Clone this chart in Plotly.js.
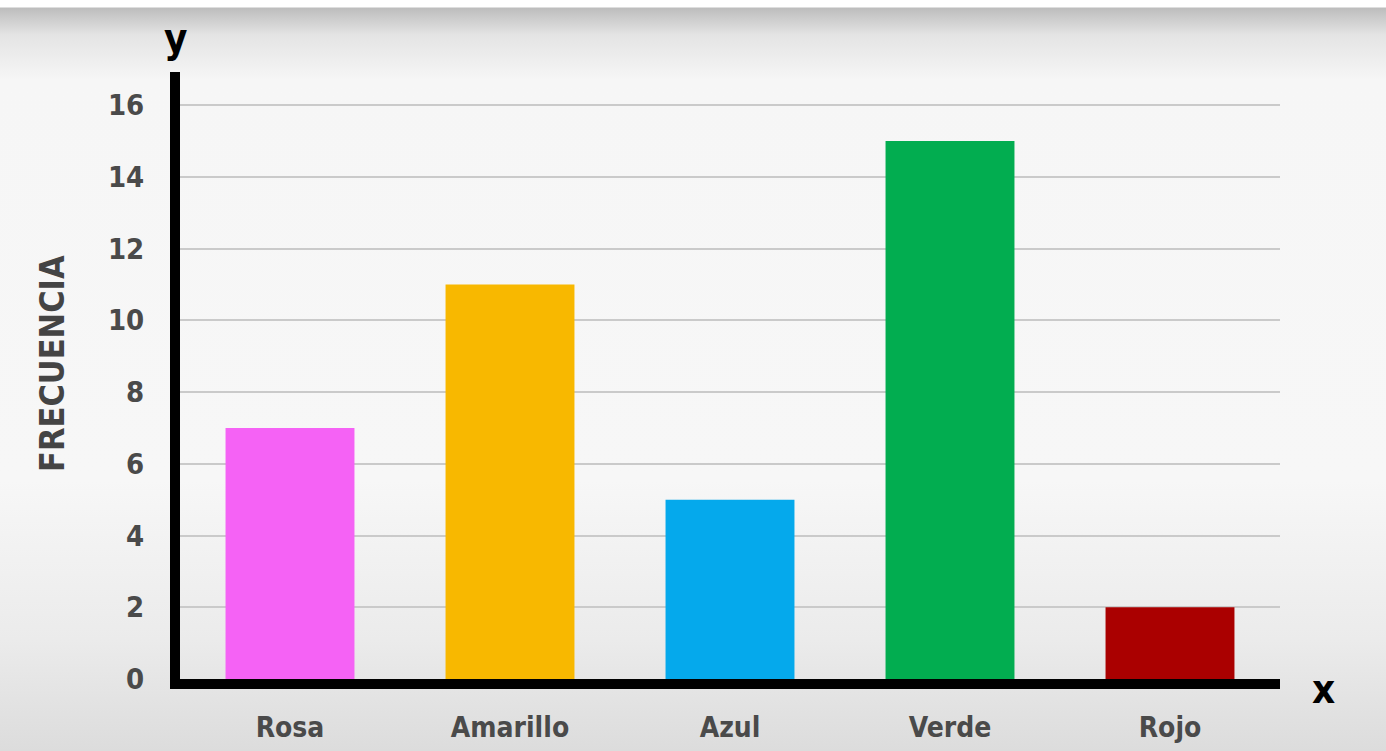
<!DOCTYPE html>
<html>
<head>
<meta charset="utf-8">
<script src="https://cdn.plot.ly/plotly-3.0.1.min.js"></script>
<style>
  html, body { margin: 0; padding: 0; }
  body {
    width: 1386px; height: 751px; overflow: hidden;
    background: linear-gradient(to bottom, #ffffff 0px, #ffffff 7px, #bdbdbd 8px, #e4e4e4 35px, #f6f6f6 80px, #f7f7f7 480px, #ebebeb 640px, #dcdcdc 751px);
  }
  #chart { width: 1386px; height: 751px; }
</style>
</head>
<body>
<div id="chart"></div>
<script>
const categories = ["Rosa", "Amarillo", "Azul", "Verde", "Rojo"];
const frecuencia = [7, 11, 5, 15, 2];
const barColors = ["#f562f5", "#f8b800", "#05a9ec", "#02ad50", "#aa0000"];
const yTicks = [0, 2, 4, 6, 8, 10, 12, 14, 16];

const FONT = "'DejaVu Sans Condensed', 'Liberation Sans', sans-serif";

const trace = {
  type: "bar",
  x: categories,
  y: frecuencia,
  marker: { color: barColors, line: { width: 0 } },
  hoverinfo: "x+y"
};

const layout = {
  width: 1386,
  height: 751,
  margin: { l: 180, r: 106, t: 72, b: 72, pad: 0 },
  paper_bgcolor: "rgba(0,0,0,0)",
  plot_bgcolor: "rgba(0,0,0,0)",
  bargap: 0.414,
  showlegend: false,
  font: { family: FONT, color: "#4a4a4a" },
  xaxis: {
    type: "category",
    range: [-0.5, 4.5],
    showgrid: false,
    zeroline: false,
    showline: true,
    linecolor: "#000000",
    linewidth: 10,
    ticks: "",
    tickfont: { family: FONT, size: 28, color: "#4a4a4a", weight: "bold" },
    ticklabelstandoff: 14
  },
  yaxis: {
    range: [0, 16.92],
    tickvals: yTicks,
    ticktext: yTicks.map(String),
    showgrid: true,
    gridcolor: "#cacaca",
    gridwidth: 2,
    zeroline: false,
    showline: true,
    linecolor: "#000000",
    linewidth: 10,
    ticks: "",
    tickfont: { family: FONT, size: 29, color: "#4a4a4a", weight: "bold" },
    ticklabelstandoff: 20
  },
  annotations: [
    {
      text: "FRECUENCIA", textangle: -90,
      xref: "paper", yref: "paper", x: 0, y: 0.519,
      xshift: -128, xanchor: "center", yanchor: "middle", showarrow: false,
      font: { family: FONT, size: 34, color: "#444444", weight: "bold" }
    },
    {
      text: "y",
      xref: "paper", yref: "paper", x: 0, y: 1,
      xshift: -5, yshift: 34, xanchor: "center", yanchor: "middle", showarrow: false,
      font: { family: FONT, size: 40, color: "#000000", weight: "bold" }
    },
    {
      text: "x",
      xref: "paper", yref: "paper", x: 1, y: 0,
      xshift: 43, yshift: -10, xanchor: "center", yanchor: "middle", showarrow: false,
      font: { family: FONT, size: 40, color: "#000000", weight: "bold" }
    }
  ]
};

Plotly.newPlot("chart", [trace], layout, { displayModeBar: false, staticPlot: true });
</script>
</body>
</html>
